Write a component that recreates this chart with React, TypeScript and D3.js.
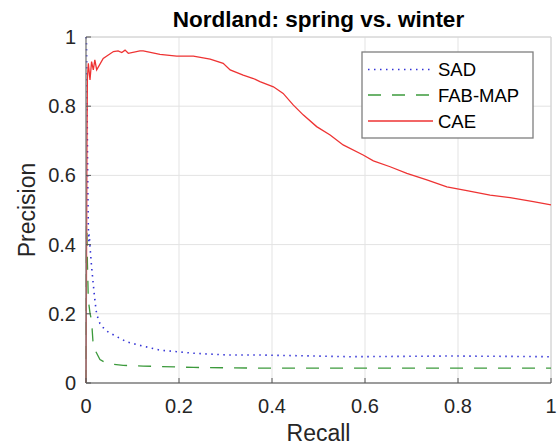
import React from 'react';
import * as d3 from 'd3';

// values
const ticks = [0, 0.2, 0.4, 0.6, 0.8, 1];
const tickLabels = ['0', '0.2', '0.4', '0.6', '0.8', '1'];

const sadRecall = [0, 0.001, 0.002, 0.003, 0.004, 0.005, 0.006, 0.007, 0.0086, 0.012, 0.0157, 0.019, 0.023, 0.03, 0.037, 0.0445, 0.066, 0.0875, 0.112, 0.159, 0.231, 0.303, 0.367, 0.45, 0.568, 0.68, 0.783, 0.9, 1.0];
const sadPrecision = [1.0, 0.98, 0.85, 0.7, 0.55, 0.45, 0.41, 0.43, 0.394, 0.336, 0.285, 0.24, 0.198, 0.172, 0.16, 0.15, 0.134, 0.119, 0.11, 0.095, 0.086, 0.081, 0.081, 0.079, 0.076, 0.077, 0.078, 0.077, 0.076];

const fabRecall = [0, 0.0005, 0.001, 0.002, 0.003, 0.005, 0.0086, 0.012, 0.0157, 0.023, 0.03, 0.04, 0.052, 0.08, 0.123, 0.231, 0.367, 0.5, 0.7, 0.85, 1.0];
const fabPrecision = [0, 0.3, 0.46, 0.44, 0.35, 0.24, 0.202, 0.18, 0.105, 0.086, 0.068, 0.06, 0.055, 0.051, 0.049, 0.045, 0.043, 0.043, 0.043, 0.043, 0.043];

const caeRecall = [0, 0.001, 0.002, 0.003, 0.005, 0.0086, 0.012, 0.0157, 0.019, 0.023, 0.037, 0.059, 0.069, 0.077, 0.084, 0.091, 0.116, 0.123, 0.159, 0.195, 0.231, 0.267, 0.295, 0.31, 0.338, 0.36, 0.374, 0.403, 0.424, 0.446, 0.467, 0.496, 0.525, 0.553, 0.596, 0.618, 0.654, 0.69, 0.733, 0.776, 0.819, 0.869, 0.912, 0.962, 1.0];
const caePrecision = [0, 0.3, 0.7, 0.88, 0.924, 0.876, 0.929, 0.905, 0.934, 0.905, 0.938, 0.958, 0.96, 0.955, 0.962, 0.953, 0.96, 0.96, 0.95, 0.945, 0.945, 0.936, 0.924, 0.905, 0.89, 0.88, 0.871, 0.856, 0.837, 0.803, 0.775, 0.741, 0.717, 0.688, 0.659, 0.642, 0.625, 0.606, 0.587, 0.567, 0.556, 0.543, 0.536, 0.524, 0.515];

const seriesNames = ['SAD', 'FAB-MAP', 'CAE'];
const seriesColors = ['#3333d6', '#3c9a3c', '#ee3333'];
const seriesDash = ['1.5,4.5', '13,11', null];

const W = 557;
const H = 448;
const font = 'Liberation Sans, Arial, sans-serif';

export default function App() {
  const x = d3.scaleLinear().domain([0, 1]).range([86, 551]);
  const y = d3.scaleLinear().domain([0, 1]).range([383, 37]);

  const line = d3
    .line<[number, number]>()
    .x(d => x(d[0]))
    .y(d => y(d[1]));

  const series = [
    d3.zip(sadRecall, sadPrecision) as [number, number][],
    d3.zip(fabRecall, fabPrecision) as [number, number][],
    d3.zip(caeRecall, caePrecision) as [number, number][],
  ];

  const [x0, x1] = x.range();
  const [y0, y1] = y.range();

  const legX = 362;
  const legY = 52;
  const legRows = [69.5, 95, 121];

  return (
    <svg width={W} height={H} style={{ position: 'absolute', left: 0, top: 0, background: '#fff' }} fontFamily={font}>
      <rect x={0} y={0} width={W} height={H} fill="#fff" />

      {/* grid */}
      {ticks.map(t => (
        <line key={'gx' + t} x1={x(t)} x2={x(t)} y1={y0} y2={y1} stroke="#e3e3e3" strokeWidth={1} />
      ))}
      {ticks.map(t => (
        <line key={'gy' + t} x1={x0} x2={x1} y1={y(t)} y2={y(t)} stroke="#e3e3e3" strokeWidth={1} />
      ))}

      {/* box top/right */}
      <line x1={x0} x2={x1} y1={y1} y2={y1} stroke="#d0d0d0" />
      <line x1={x1} x2={x1} y1={y0} y2={y1} stroke="#d0d0d0" />

      {/* curves */}
      {series.map((s, i) => (
        <path
          key={seriesNames[i]}
          d={line(s) || ''}
          fill="none"
          stroke={seriesColors[i]}
          strokeWidth={i === 0 ? 1.6 : 1.3}
          strokeDasharray={seriesDash[i] || undefined}
        />
      ))}

      {/* axes */}
      <line x1={x0} x2={x1} y1={y0} y2={y0} stroke="#7f7f7f" strokeWidth={1.3} />
      <line x1={x0} x2={x0} y1={y0} y2={y1} stroke="#7f7f7f" strokeWidth={1.3} />
      {ticks.map(t => (
        <line key={'tx' + t} x1={x(t)} x2={x(t)} y1={y0} y2={y0 - 5} stroke="#555" strokeWidth={1} />
      ))}
      {ticks.map(t => (
        <line key={'ty' + t} x1={x0} x2={x0 + 5} y1={y(t)} y2={y(t)} stroke="#555" strokeWidth={1} />
      ))}

      {/* tick labels */}
      {ticks.map((t, i) => (
        <text key={'lx' + t} x={x(t)} y={413} textAnchor="middle" fontSize={20} fill="#262626">
          {tickLabels[i]}
        </text>
      ))}
      {ticks.map((t, i) => (
        <text key={'ly' + t} x={x0 - 10} y={y(t) + 7} textAnchor="end" fontSize={20} fill="#262626">
          {tickLabels[i]}
        </text>
      ))}

      {/* labels */}
      <text x={(x0 + x1) / 2} y={441} textAnchor="middle" fontSize={23} fill="#262626">
        Recall
      </text>
      <text
        transform={`translate(35,${(y0 + y1) / 2}) rotate(-90)`}
        textAnchor="middle"
        fontSize={23}
        fill="#262626"
      >
        Precision
      </text>
      <text x={(x0 + x1) / 2} y={27} textAnchor="middle" fontSize={22.5} fontWeight="bold" fill="#000">
        Nordland: spring vs. winter
      </text>

      {/* legend */}
      <rect x={legX} y={legY} width={171} height={86} fill="#fff" stroke="#7f7f7f" strokeWidth={1.3} />
      {seriesNames.map((n, i) => (
        <g key={'leg' + n}>
          <line
            x1={368}
            x2={433}
            y1={legRows[i]}
            y2={legRows[i]}
            stroke={seriesColors[i]}
            strokeWidth={i === 0 ? 1.6 : 1.3}
            strokeDasharray={seriesDash[i] || undefined}
          />
          <text x={438} y={legRows[i] + 6.5} fontSize={18.5} fill="#000">
            {n}
          </text>
        </g>
      ))}
    </svg>
  );
}
